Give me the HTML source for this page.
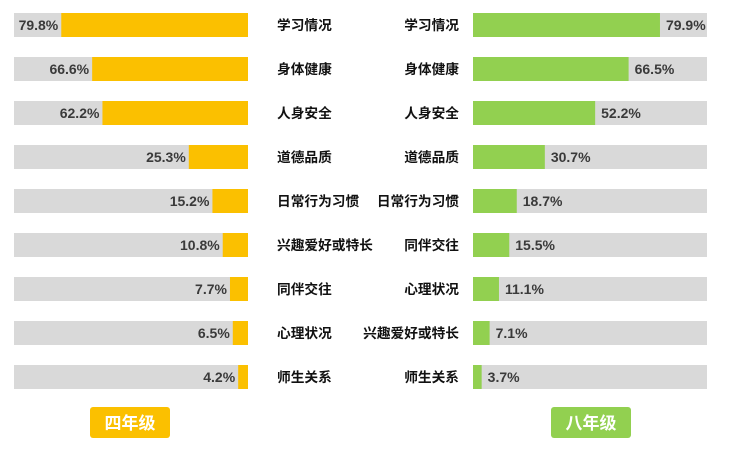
<!DOCTYPE html>
<html><head><meta charset="utf-8">
<style>
body{margin:0;background:#fff;width:732px;height:470px;overflow:hidden}
svg{display:block}
.val{font-family:"Liberation Sans Narrow","Liberation Sans",sans-serif;font-weight:bold;font-size:14px;fill:#3a3a3a}
.cat{font-family:"Liberation Sans","Noto Sans CJK SC",sans-serif;font-weight:bold;font-size:13.7px;fill:#111}
.badge{font-family:"Liberation Sans","Noto Sans CJK SC",sans-serif;font-weight:bold;font-size:17px;fill:#fff}
</style></head>
<body>
<svg id="chart" width="732" height="470">
<g id="left"></g><g id="right"></g>
<rect x="90" y="407" width="80" height="31" rx="3" fill="#FBC000"/>
<text class="badge" x="130" y="429" text-anchor="middle">四年级</text>
<rect x="551" y="407" width="80" height="31" rx="3" fill="#92D050"/>
<text class="badge" x="591" y="429" text-anchor="middle">八年级</text>
</svg>
<script>
const leftCategories=["学习情况","身体健康","人身安全","道德品质","日常行为习惯","兴趣爱好或特长","同伴交往","心理状况","师生关系"];
const leftValues=[79.8,66.6,62.2,25.3,15.2,10.8,7.7,6.5,4.2];
const rightCategories=["学习情况","身体健康","人身安全","道德品质","日常行为习惯","同伴交往","心理状况","兴趣爱好或特长","师生关系"];
const rightValues=[79.9,66.5,52.2,30.7,18.7,15.5,11.1,7.1,3.7];
const NS="http://www.w3.org/2000/svg";
const trackW=234,barH=24;
function xw(v){return v/100*trackW;}
function rowY(i){return 13+i*44;}
function mk(tag,attrs,parent,txt){const e=document.createElementNS(NS,tag);for(const k in attrs)e.setAttribute(k,attrs[k]);if(txt!==undefined)e.textContent=txt;parent.appendChild(e);return e;}
const L=document.getElementById('left'),R=document.getElementById('right');
leftValues.forEach((v,i)=>{
  const y=rowY(i);
  const t=mk('rect',{x:14,y:y,width:trackW,height:barH,fill:'#D9D9D9'},L);
  
  
  const w=xw(v);
  const b=mk('rect',{x:14+trackW-w,y:y,width:w,height:barH,fill:'#FBC000'},L);
  
  
  const vt=mk('text',{class:'val',x:14+trackW-w-3,y:y+17,'text-anchor':'end'},L,v.toFixed(1)+'%');
  
  
  const c=mk('text',{class:'cat',x:277,y:y+17},L,leftCategories[i]);
  
  
});
rightValues.forEach((v,i)=>{
  const y=rowY(i);
  const t=mk('rect',{x:473,y:y,width:trackW,height:barH,fill:'#D9D9D9'},R);
  
  
  const w=xw(v);
  const b=mk('rect',{x:473,y:y,width:w,height:barH,fill:'#92D050'},R);
  
  
  const vt=mk('text',{class:'val',x:473+w+6,y:y+17},R,v.toFixed(1)+'%');
  
  
  const c=mk('text',{class:'cat',x:459,y:y+17,'text-anchor':'end'},R,rightCategories[i]);
  
  
});
</script>
</body></html>
